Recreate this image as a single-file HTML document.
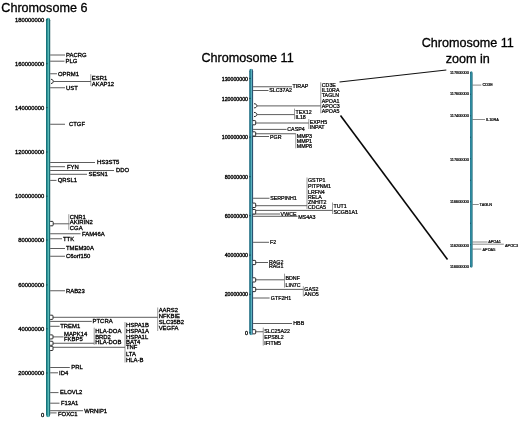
<!DOCTYPE html>
<html><head><meta charset="utf-8"><title>Chromosome map</title>
<style>
html,body{margin:0;padding:0;background:#fff;}
svg{display:block}
text{font-family:"Liberation Sans",Arial,sans-serif;fill:#000}
.t{fill:#000;stroke:#000;stroke-width:0.3px}
.g{stroke:#000;stroke-width:0.3px}
.ax{stroke:#000;stroke-width:0.33px}
.az,.gz{stroke:#000;stroke-width:0.2px}
.h{stroke:#000;stroke-width:0.24px}
</style></head><body>
<svg width="520" height="421" viewBox="0 0 520 421">
<defs>
<linearGradient id="g6" x1="0" x2="1" y1="0" y2="0"><stop offset="0" stop-color="#0f666e"/><stop offset="0.3" stop-color="#22888f"/><stop offset="0.56" stop-color="#66c6c2"/><stop offset="0.76" stop-color="#22838a"/><stop offset="1" stop-color="#093f48"/></linearGradient>
<linearGradient id="g11" x1="0" x2="1" y1="0" y2="0"><stop offset="0" stop-color="#1c6880"/><stop offset="0.3" stop-color="#227a8a"/><stop offset="0.56" stop-color="#64c0cc"/><stop offset="0.76" stop-color="#2c5a7a"/><stop offset="1" stop-color="#284462"/></linearGradient>
<linearGradient id="gz" x1="0" x2="1" y1="0" y2="0"><stop offset="0" stop-color="#236f90"/><stop offset="0.45" stop-color="#359aa8"/><stop offset="1" stop-color="#1c5f74"/></linearGradient>
</defs>
<rect width="520" height="421" fill="#fff"/>
<text x="44.20" y="416.99" font-size="5.85" text-anchor="end" class="ax">0</text>
<text x="44.20" y="375.09" font-size="5.85" text-anchor="end" class="ax">20000000</text>
<text x="44.20" y="330.89" font-size="5.85" text-anchor="end" class="ax">40000000</text>
<text x="44.20" y="286.99" font-size="5.85" text-anchor="end" class="ax">60000000</text>
<text x="44.20" y="242.09" font-size="5.85" text-anchor="end" class="ax">80000000</text>
<text x="44.20" y="198.29" font-size="5.85" text-anchor="end" class="ax">100000000</text>
<text x="44.20" y="154.09" font-size="5.85" text-anchor="end" class="ax">120000000</text>
<text x="44.20" y="109.69" font-size="5.85" text-anchor="end" class="ax">140000000</text>
<text x="44.20" y="65.79" font-size="5.85" text-anchor="end" class="ax">160000000</text>
<text x="44.20" y="21.69" font-size="5.85" text-anchor="end" class="ax">180000000</text>
<rect x="46.00" y="17.70" width="4.20" height="399.50" rx="2.10" ry="2.60" fill="url(#g6)"/>
<line x1="46.00" y1="373.00" x2="47.60" y2="373.00" stroke="#0c3a44" stroke-width="0.8"/>
<line x1="46.00" y1="328.80" x2="47.60" y2="328.80" stroke="#0c3a44" stroke-width="0.8"/>
<line x1="46.00" y1="284.90" x2="47.60" y2="284.90" stroke="#0c3a44" stroke-width="0.8"/>
<line x1="46.00" y1="240.00" x2="47.60" y2="240.00" stroke="#0c3a44" stroke-width="0.8"/>
<line x1="46.00" y1="196.20" x2="47.60" y2="196.20" stroke="#0c3a44" stroke-width="0.8"/>
<line x1="46.00" y1="152.00" x2="47.60" y2="152.00" stroke="#0c3a44" stroke-width="0.8"/>
<line x1="46.00" y1="107.60" x2="47.60" y2="107.60" stroke="#0c3a44" stroke-width="0.8"/>
<line x1="46.00" y1="63.70" x2="47.60" y2="63.70" stroke="#0c3a44" stroke-width="0.8"/>
<line x1="46.00" y1="19.60" x2="47.60" y2="19.60" stroke="#0c3a44" stroke-width="0.8"/>
<line x1="50.20" y1="55.00" x2="65.00" y2="55.00" stroke="#333" stroke-width="0.8"/>
<text x="66.00" y="56.81" font-size="5.9" text-anchor="start" class="g">PACRG</text>
<line x1="50.20" y1="61.20" x2="64.50" y2="61.20" stroke="#333" stroke-width="0.8"/>
<text x="65.50" y="63.01" font-size="5.9" text-anchor="start" class="g">PLG</text>
<line x1="50.20" y1="73.75" x2="57.00" y2="73.75" stroke="#333" stroke-width="0.8"/>
<text x="58.00" y="75.56" font-size="5.9" text-anchor="start" class="g">OPRM1</text>
<line x1="50.20" y1="87.75" x2="65.00" y2="87.75" stroke="#333" stroke-width="0.8"/>
<text x="66.00" y="89.56" font-size="5.9" text-anchor="start" class="g">UST</text>
<line x1="50.20" y1="124.25" x2="65.00" y2="124.25" stroke="#333" stroke-width="0.8"/>
<text x="69.00" y="126.06" font-size="5.9" text-anchor="start" class="g">CTGF</text>
<line x1="50.20" y1="162.50" x2="95.00" y2="162.50" stroke="#333" stroke-width="0.8"/>
<text x="97.00" y="164.31" font-size="5.9" text-anchor="start" class="g">HS3ST5</text>
<line x1="50.20" y1="166.70" x2="65.00" y2="166.70" stroke="#333" stroke-width="0.8"/>
<text x="66.90" y="168.51" font-size="5.9" text-anchor="start" class="g">FYN</text>
<line x1="50.20" y1="170.50" x2="114.00" y2="170.50" stroke="#333" stroke-width="0.8"/>
<text x="116.00" y="172.31" font-size="5.9" text-anchor="start" class="g">DDO</text>
<line x1="50.20" y1="174.30" x2="87.00" y2="174.30" stroke="#333" stroke-width="0.8"/>
<text x="88.50" y="176.11" font-size="5.9" text-anchor="start" class="g">SESN1</text>
<line x1="50.20" y1="180.40" x2="56.50" y2="180.40" stroke="#333" stroke-width="0.8"/>
<text x="57.70" y="182.21" font-size="5.9" text-anchor="start" class="g">QRSL1</text>
<line x1="50.20" y1="233.75" x2="80.50" y2="233.75" stroke="#333" stroke-width="0.8"/>
<text x="82.00" y="235.56" font-size="5.9" text-anchor="start" class="g">FAM46A</text>
<line x1="50.20" y1="238.75" x2="62.00" y2="238.75" stroke="#333" stroke-width="0.8"/>
<text x="63.00" y="240.56" font-size="5.9" text-anchor="start" class="g">TTK</text>
<line x1="50.20" y1="248.50" x2="65.00" y2="248.50" stroke="#333" stroke-width="0.8"/>
<text x="66.00" y="250.31" font-size="5.9" text-anchor="start" class="g">TMEM30A</text>
<line x1="50.20" y1="256.25" x2="65.00" y2="256.25" stroke="#333" stroke-width="0.8"/>
<text x="66.00" y="258.06" font-size="5.9" text-anchor="start" class="g">C6orf150</text>
<line x1="50.20" y1="290.75" x2="65.00" y2="290.75" stroke="#333" stroke-width="0.8"/>
<text x="66.00" y="292.56" font-size="5.9" text-anchor="start" class="g">RAB23</text>
<line x1="50.20" y1="321.40" x2="91.80" y2="321.40" stroke="#333" stroke-width="0.8"/>
<text x="92.60" y="323.21" font-size="5.9" text-anchor="start" class="g">PTCRA</text>
<line x1="50.20" y1="326.30" x2="59.60" y2="326.30" stroke="#333" stroke-width="0.8"/>
<text x="60.20" y="328.11" font-size="5.9" text-anchor="start" class="g">TREM1</text>
<line x1="50.20" y1="367.50" x2="69.80" y2="367.50" stroke="#333" stroke-width="0.8"/>
<text x="71.30" y="369.31" font-size="5.9" text-anchor="start" class="g">PRL</text>
<line x1="50.20" y1="372.80" x2="58.00" y2="372.80" stroke="#333" stroke-width="0.8"/>
<text x="59.00" y="374.61" font-size="5.9" text-anchor="start" class="g">ID4</text>
<line x1="50.20" y1="392.60" x2="58.50" y2="392.60" stroke="#333" stroke-width="0.8"/>
<text x="60.00" y="394.41" font-size="5.9" text-anchor="start" class="g">ELOVL2</text>
<line x1="50.20" y1="403.20" x2="59.50" y2="403.20" stroke="#333" stroke-width="0.8"/>
<text x="61.00" y="405.01" font-size="5.9" text-anchor="start" class="g">F13A1</text>
<line x1="50.20" y1="410.70" x2="83.00" y2="410.70" stroke="#333" stroke-width="0.8"/>
<text x="84.20" y="412.51" font-size="5.9" text-anchor="start" class="g">WRNIP1</text>
<line x1="50.20" y1="412.90" x2="56.60" y2="412.90" stroke="#333" stroke-width="0.8"/>
<text x="58.00" y="416.21" font-size="5.9" text-anchor="start" class="g">FOXC1</text>
<path d="M51.00 79.30 C54.06 79.30 54.06 83.50 51.00 83.50" fill="#fff" stroke="#111" stroke-width="0.9"/>
<line x1="53.50" y1="81.50" x2="90.80" y2="81.50" stroke="#333" stroke-width="0.8"/>
<line x1="90.80" y1="74.20" x2="90.80" y2="85.80" stroke="#555" stroke-width="0.6"/>
<text x="91.80" y="79.81" font-size="5.9" text-anchor="start" class="g">ESR1</text>
<text x="91.80" y="85.71" font-size="5.9" text-anchor="start" class="g">AKAP12</text>
<path d="M50.20 221.40 h2.20 q0.8 0 0.8 0.8 v2.80 q0 0.8 -0.8 0.8 h-2.20" fill="#fff" stroke="#111" stroke-width="0.9"/>
<line x1="53.20" y1="223.80" x2="68.80" y2="223.80" stroke="#333" stroke-width="0.8"/>
<line x1="68.80" y1="214.20" x2="68.80" y2="229.80" stroke="#555" stroke-width="0.6"/>
<text x="69.80" y="218.61" font-size="5.9" text-anchor="start" class="g">CNR1</text>
<text x="69.80" y="223.91" font-size="5.9" text-anchor="start" class="g">AKIRIN2</text>
<text x="69.80" y="229.61" font-size="5.9" text-anchor="start" class="g">CGA</text>
<path d="M50.20 315.20 h2.00 q0.8 0 0.8 0.8 v2.60 q0 0.8 -0.8 0.8 h-2.00" fill="#fff" stroke="#111" stroke-width="0.9"/>
<line x1="53.00" y1="317.30" x2="157.70" y2="317.30" stroke="#333" stroke-width="0.8"/>
<line x1="157.70" y1="307.50" x2="157.70" y2="331.00" stroke="#555" stroke-width="0.6"/>
<text x="158.70" y="312.01" font-size="5.9" text-anchor="start" class="g">AARS2</text>
<text x="158.70" y="317.71" font-size="5.9" text-anchor="start" class="g">NFKBIE</text>
<text x="158.70" y="323.51" font-size="5.9" text-anchor="start" class="g">SLC35B2</text>
<text x="158.70" y="329.81" font-size="5.9" text-anchor="start" class="g">VEGFA</text>
<path d="M50.20 334.90 h2.00 q0.8 0 0.8 0.8 v2.40 q0 0.8 -0.8 0.8 h-2.00" fill="#fff" stroke="#111" stroke-width="0.9"/>
<line x1="53.00" y1="336.90" x2="63.50" y2="336.90" stroke="#333" stroke-width="0.8"/>
<text x="64.00" y="336.41" font-size="5.9" text-anchor="start" class="g">MAPK14</text>
<text x="64.00" y="341.41" font-size="5.9" text-anchor="start" class="g">FKBP5</text>
<path d="M50.20 341.25 h2.00 q0.8 0 0.8 0.8 v2.40 q0 0.8 -0.8 0.8 h-2.00" fill="#fff" stroke="#111" stroke-width="0.9"/>
<line x1="53.00" y1="343.25" x2="94.20" y2="343.25" stroke="#333" stroke-width="0.8"/>
<line x1="94.20" y1="327.70" x2="94.20" y2="344.80" stroke="#555" stroke-width="0.6"/>
<text x="95.20" y="333.21" font-size="5.9" text-anchor="start" class="g">HLA-DOA</text>
<text x="95.20" y="338.51" font-size="5.9" text-anchor="start" class="g">BRD2</text>
<text x="95.20" y="343.81" font-size="5.9" text-anchor="start" class="g">HLA-DOB</text>
<path d="M50.20 346.30 h2.00 q0.8 0 0.8 0.8 v2.60 q0 0.8 -0.8 0.8 h-2.00" fill="#fff" stroke="#111" stroke-width="0.9"/>
<line x1="53.00" y1="347.30" x2="125.00" y2="347.30" stroke="#333" stroke-width="0.8"/>
<line x1="125.00" y1="322.00" x2="125.00" y2="362.50" stroke="#555" stroke-width="0.6"/>
<text x="126.00" y="326.71" font-size="5.9" text-anchor="start" class="g">HSPA1B</text>
<text x="126.00" y="332.71" font-size="5.9" text-anchor="start" class="g">HSPA1A</text>
<text x="126.00" y="338.71" font-size="5.9" text-anchor="start" class="g">HSPA1L</text>
<text x="126.00" y="343.71" font-size="5.9" text-anchor="start" class="g">BAT4</text>
<text x="126.00" y="349.31" font-size="5.9" text-anchor="start" class="g">TNF</text>
<text x="126.00" y="355.51" font-size="5.9" text-anchor="start" class="g">LTA</text>
<text x="126.00" y="361.51" font-size="5.9" text-anchor="start" class="g">HLA-B</text>
<text x="1.3" y="11.6" class="t" font-size="12.6">Chromosome 6</text>
<text x="248.00" y="334.98" font-size="5.25" text-anchor="end" class="ax">0</text>
<text x="248.00" y="296.48" font-size="5.25" text-anchor="end" class="ax">20000000</text>
<text x="248.00" y="257.28" font-size="5.25" text-anchor="end" class="ax">40000000</text>
<text x="248.00" y="217.88" font-size="5.25" text-anchor="end" class="ax">60000000</text>
<text x="248.00" y="178.88" font-size="5.25" text-anchor="end" class="ax">80000000</text>
<text x="248.00" y="139.28" font-size="5.25" text-anchor="end" class="ax">100000000</text>
<text x="248.00" y="100.58" font-size="5.25" text-anchor="end" class="ax">120000000</text>
<text x="248.00" y="80.63" font-size="5.25" text-anchor="end" class="ax">130000000</text>
<rect x="249.20" y="68.80" width="3.90" height="266.50" rx="1.95" ry="2.45" fill="url(#g11)"/>
<line x1="249.20" y1="332.80" x2="250.70" y2="332.80" stroke="#0c3a44" stroke-width="0.8"/>
<line x1="249.20" y1="294.30" x2="250.70" y2="294.30" stroke="#0c3a44" stroke-width="0.8"/>
<line x1="249.20" y1="255.10" x2="250.70" y2="255.10" stroke="#0c3a44" stroke-width="0.8"/>
<line x1="249.20" y1="215.70" x2="250.70" y2="215.70" stroke="#0c3a44" stroke-width="0.8"/>
<line x1="249.20" y1="176.70" x2="250.70" y2="176.70" stroke="#0c3a44" stroke-width="0.8"/>
<line x1="249.20" y1="137.10" x2="250.70" y2="137.10" stroke="#0c3a44" stroke-width="0.8"/>
<line x1="249.20" y1="98.40" x2="250.70" y2="98.40" stroke="#0c3a44" stroke-width="0.8"/>
<line x1="249.20" y1="78.45" x2="250.70" y2="78.45" stroke="#0c3a44" stroke-width="0.8"/>
<line x1="253.10" y1="86.75" x2="292.00" y2="86.75" stroke="#333" stroke-width="0.8"/>
<text x="292.60" y="88.10" font-size="5.3" text-anchor="start" class="h">TIRAP</text>
<line x1="253.10" y1="90.50" x2="268.50" y2="90.50" stroke="#333" stroke-width="0.8"/>
<text x="269.20" y="92.40" font-size="5.3" text-anchor="start" class="h">SLC37A2</text>
<line x1="253.10" y1="129.40" x2="286.60" y2="129.40" stroke="#333" stroke-width="0.8"/>
<text x="287.30" y="131.30" font-size="5.3" text-anchor="start" class="h">CASP4</text>
<line x1="253.10" y1="136.50" x2="269.00" y2="136.50" stroke="#333" stroke-width="0.8"/>
<text x="270.00" y="138.90" font-size="5.3" text-anchor="start" class="h">PGR</text>
<line x1="253.10" y1="198.25" x2="269.50" y2="198.25" stroke="#333" stroke-width="0.8"/>
<text x="270.20" y="200.15" font-size="5.3" text-anchor="start" class="h">SERPINH1</text>
<line x1="253.10" y1="214.00" x2="280.00" y2="214.00" stroke="#333" stroke-width="0.8"/>
<text x="280.60" y="215.70" font-size="5.3" text-anchor="start" class="h">VWCE</text>
<line x1="253.10" y1="216.30" x2="297.50" y2="216.30" stroke="#333" stroke-width="0.8"/>
<text x="298.20" y="218.90" font-size="5.3" text-anchor="start" class="h">MS4A3</text>
<line x1="253.10" y1="242.30" x2="269.00" y2="242.30" stroke="#333" stroke-width="0.8"/>
<text x="270.00" y="244.10" font-size="5.3" text-anchor="start" class="h">F2</text>
<line x1="253.10" y1="298.00" x2="269.60" y2="298.00" stroke="#333" stroke-width="0.8"/>
<text x="270.80" y="299.90" font-size="5.3" text-anchor="start" class="h">GTF2H1</text>
<line x1="253.10" y1="323.50" x2="292.00" y2="323.50" stroke="#333" stroke-width="0.8"/>
<text x="293.30" y="325.40" font-size="5.3" text-anchor="start" class="h">HBB</text>
<path d="M254.00 103.70 C257.86 103.70 257.86 107.90 254.00 107.90" fill="#fff" stroke="#111" stroke-width="0.9"/>
<line x1="257.10" y1="105.90" x2="320.75" y2="105.90" stroke="#333" stroke-width="0.8"/>
<line x1="320.75" y1="82.30" x2="320.75" y2="113.30" stroke="#555" stroke-width="0.6"/>
<text x="321.75" y="86.90" font-size="5.3" text-anchor="start" class="h">CD3E</text>
<text x="321.75" y="92.00" font-size="5.3" text-anchor="start" class="h">IL10RA</text>
<text x="321.75" y="97.10" font-size="5.3" text-anchor="start" class="h">TAGLN</text>
<text x="321.75" y="102.70" font-size="5.3" text-anchor="start" class="h">APOA1</text>
<text x="321.75" y="107.70" font-size="5.3" text-anchor="start" class="h">APOC3</text>
<text x="321.75" y="112.70" font-size="5.3" text-anchor="start" class="h">APOA5</text>
<path d="M254.00 112.40 C257.86 112.40 257.86 116.60 254.00 116.60" fill="#fff" stroke="#111" stroke-width="0.9"/>
<line x1="257.10" y1="114.60" x2="294.50" y2="114.60" stroke="#333" stroke-width="0.8"/>
<line x1="294.50" y1="108.60" x2="294.50" y2="119.30" stroke="#555" stroke-width="0.6"/>
<text x="295.50" y="113.50" font-size="5.3" text-anchor="start" class="h">TEX12</text>
<text x="295.50" y="118.60" font-size="5.3" text-anchor="start" class="h">IL18</text>
<path d="M252.80 120.60 h2.10 q0.8 0 0.8 0.8 v2.60 q0 0.8 -0.8 0.8 h-2.10" fill="#fff" stroke="#111" stroke-width="0.9"/>
<line x1="255.70" y1="123.00" x2="308.80" y2="123.00" stroke="#333" stroke-width="0.8"/>
<line x1="308.80" y1="119.00" x2="308.80" y2="129.00" stroke="#555" stroke-width="0.6"/>
<text x="309.80" y="123.60" font-size="5.3" text-anchor="start" class="h">EXPH5</text>
<text x="309.80" y="128.60" font-size="5.3" text-anchor="start" class="h">INPAT</text>
<path d="M252.80 131.80 h2.10 q0.8 0 0.8 0.8 v2.60 q0 0.8 -0.8 0.8 h-2.10" fill="#fff" stroke="#111" stroke-width="0.9"/>
<line x1="255.70" y1="133.75" x2="295.75" y2="133.75" stroke="#333" stroke-width="0.8"/>
<line x1="295.75" y1="133.50" x2="295.75" y2="148.30" stroke="#555" stroke-width="0.6"/>
<text x="296.75" y="137.70" font-size="5.3" text-anchor="start" class="h">MMP3</text>
<text x="296.75" y="142.90" font-size="5.3" text-anchor="start" class="h">MMP1</text>
<text x="296.75" y="148.10" font-size="5.3" text-anchor="start" class="h">MMP8</text>
<path d="M252.80 203.10 h2.10 q0.8 0 0.8 0.8 v2.80 q0 0.8 -0.8 0.8 h-2.10" fill="#fff" stroke="#111" stroke-width="0.9"/>
<line x1="255.70" y1="205.70" x2="307.00" y2="205.70" stroke="#333" stroke-width="0.8"/>
<line x1="307.00" y1="177.50" x2="307.00" y2="209.00" stroke="#555" stroke-width="0.6"/>
<text x="308.00" y="182.10" font-size="5.3" text-anchor="start" class="h">GSTP1</text>
<text x="308.00" y="188.10" font-size="5.3" text-anchor="start" class="h">PITPNM1</text>
<text x="308.00" y="193.50" font-size="5.3" text-anchor="start" class="h">LRFN4</text>
<text x="308.00" y="198.90" font-size="5.3" text-anchor="start" class="h">RELA</text>
<text x="308.00" y="203.70" font-size="5.3" text-anchor="start" class="h">ZNHIT2</text>
<text x="308.00" y="209.10" font-size="5.3" text-anchor="start" class="h">CDCA5</text>
<path d="M252.80 209.50 h2.10 q0.8 0 0.8 0.8 v2.90 q0 0.8 -0.8 0.8 h-2.10" fill="#fff" stroke="#111" stroke-width="0.9"/>
<line x1="255.70" y1="210.40" x2="332.50" y2="210.40" stroke="#333" stroke-width="0.8"/>
<line x1="332.50" y1="202.50" x2="332.50" y2="214.00" stroke="#555" stroke-width="0.6"/>
<text x="333.50" y="207.60" font-size="5.3" text-anchor="start" class="h">TUT1</text>
<text x="333.50" y="213.50" font-size="5.3" text-anchor="start" class="h">SCGB1A1</text>
<path d="M252.80 260.40 h2.10 q0.8 0 0.8 0.8 v2.60 q0 0.8 -0.8 0.8 h-2.10" fill="#fff" stroke="#111" stroke-width="0.9"/>
<line x1="255.70" y1="262.50" x2="268.00" y2="262.50" stroke="#333" stroke-width="0.8"/>
<text x="269.00" y="263.90" font-size="5.3" text-anchor="start" class="h">RAG2</text>
<text x="269.00" y="268.30" font-size="5.3" text-anchor="start" class="h">RAG1</text>
<path d="M252.80 277.80 h2.10 q0.8 0 0.8 0.8 v2.60 q0 0.8 -0.8 0.8 h-2.10" fill="#fff" stroke="#111" stroke-width="0.9"/>
<line x1="255.70" y1="279.80" x2="284.50" y2="279.80" stroke="#333" stroke-width="0.8"/>
<line x1="284.50" y1="273.70" x2="284.50" y2="287.60" stroke="#555" stroke-width="0.6"/>
<text x="285.50" y="280.40" font-size="5.3" text-anchor="start" class="h">BDNF</text>
<text x="285.50" y="286.90" font-size="5.3" text-anchor="start" class="h">LIN7C</text>
<path d="M252.80 287.40 h2.10 q0.8 0 0.8 0.8 v2.60 q0 0.8 -0.8 0.8 h-2.10" fill="#fff" stroke="#111" stroke-width="0.9"/>
<line x1="255.70" y1="289.40" x2="303.30" y2="289.40" stroke="#333" stroke-width="0.8"/>
<line x1="303.30" y1="286.20" x2="303.30" y2="296.40" stroke="#555" stroke-width="0.6"/>
<text x="304.30" y="291.40" font-size="5.3" text-anchor="start" class="h">GAS2</text>
<text x="304.30" y="295.80" font-size="5.3" text-anchor="start" class="h">ANO5</text>
<path d="M252.80 329.65 h2.10 q0.8 0 0.8 0.8 v2.60 q0 0.8 -0.8 0.8 h-2.10" fill="#fff" stroke="#111" stroke-width="0.9"/>
<line x1="255.70" y1="331.75" x2="263.25" y2="331.75" stroke="#333" stroke-width="0.8"/>
<line x1="263.25" y1="327.60" x2="263.25" y2="345.60" stroke="#555" stroke-width="0.6"/>
<text x="264.25" y="332.50" font-size="5.3" text-anchor="start" class="h">SLC25A22</text>
<text x="264.25" y="339.20" font-size="5.3" text-anchor="start" class="h">EPS8L2</text>
<text x="264.25" y="344.90" font-size="5.3" text-anchor="start" class="h">IFITM5</text>
<text x="201.5" y="61.8" class="t" font-size="12.6">Chromosome 11</text>
<line x1="339.50" y1="82.00" x2="446.30" y2="70.00" stroke="#111" stroke-width="1.15"/>
<line x1="340.50" y1="115.50" x2="447.50" y2="259.50" stroke="#080808" stroke-width="1.6"/>
<text x="468.90" y="267.58" font-size="3.85" text-anchor="end" class="az">116000000</text>
<text x="468.90" y="246.88" font-size="3.85" text-anchor="end" class="az">116200000</text>
<text x="468.90" y="203.48" font-size="3.85" text-anchor="end" class="az">116600000</text>
<text x="468.90" y="160.58" font-size="3.85" text-anchor="end" class="az">117000000</text>
<text x="468.90" y="116.98" font-size="3.85" text-anchor="end" class="az">117400000</text>
<text x="468.90" y="95.38" font-size="3.85" text-anchor="end" class="az">117600000</text>
<text x="468.90" y="73.98" font-size="3.85" text-anchor="end" class="az">117800000</text>
<rect x="470.00" y="71.20" width="2.60" height="196.60" rx="1.30" ry="1.80" fill="url(#gz)"/>
<line x1="470.00" y1="266.25" x2="471.00" y2="266.25" stroke="#0c3a44" stroke-width="0.6"/>
<line x1="470.00" y1="244.75" x2="471.00" y2="244.75" stroke="#0c3a44" stroke-width="0.6"/>
<line x1="470.00" y1="223.25" x2="471.00" y2="223.25" stroke="#0c3a44" stroke-width="0.6"/>
<line x1="470.00" y1="201.75" x2="471.00" y2="201.75" stroke="#0c3a44" stroke-width="0.6"/>
<line x1="470.00" y1="180.25" x2="471.00" y2="180.25" stroke="#0c3a44" stroke-width="0.6"/>
<line x1="470.00" y1="158.75" x2="471.00" y2="158.75" stroke="#0c3a44" stroke-width="0.6"/>
<line x1="470.00" y1="137.25" x2="471.00" y2="137.25" stroke="#0c3a44" stroke-width="0.6"/>
<line x1="470.00" y1="115.75" x2="471.00" y2="115.75" stroke="#0c3a44" stroke-width="0.6"/>
<line x1="470.00" y1="94.25" x2="471.00" y2="94.25" stroke="#0c3a44" stroke-width="0.6"/>
<line x1="470.00" y1="72.75" x2="471.00" y2="72.75" stroke="#0c3a44" stroke-width="0.6"/>
<line x1="472.60" y1="85.10" x2="481.30" y2="85.10" stroke="#2a2a2a" stroke-width="0.55"/>
<text x="482.50" y="86.48" font-size="3.85" text-anchor="start" class="gz">CD3E</text>
<line x1="472.60" y1="119.50" x2="485.00" y2="119.50" stroke="#2a2a2a" stroke-width="0.55"/>
<text x="486.00" y="120.88" font-size="3.85" text-anchor="start" class="gz">IL10RA</text>
<line x1="472.60" y1="204.50" x2="478.80" y2="204.50" stroke="#2a2a2a" stroke-width="0.55"/>
<text x="479.60" y="205.88" font-size="3.85" text-anchor="start" class="gz">TAGLN</text>
<line x1="472.60" y1="242.00" x2="487.50" y2="242.00" stroke="#2a2a2a" stroke-width="0.55"/>
<text x="488.20" y="242.78" font-size="3.85" text-anchor="start" class="gz">APOA1</text>
<line x1="472.60" y1="244.20" x2="503.80" y2="244.20" stroke="#2a2a2a" stroke-width="0.55"/>
<text x="505.00" y="246.78" font-size="3.85" text-anchor="start" class="gz">APOC3</text>
<line x1="472.60" y1="249.10" x2="481.30" y2="249.10" stroke="#2a2a2a" stroke-width="0.55"/>
<text x="482.50" y="250.58" font-size="3.85" text-anchor="start" class="gz">APOA5</text>
<text x="467.8" y="47.1" class="t" font-size="12.6" text-anchor="middle">Chromosome 11</text>
<text x="467.8" y="62.6" class="t" font-size="12.6" text-anchor="middle">zoom in</text>
</svg>
</body></html>
